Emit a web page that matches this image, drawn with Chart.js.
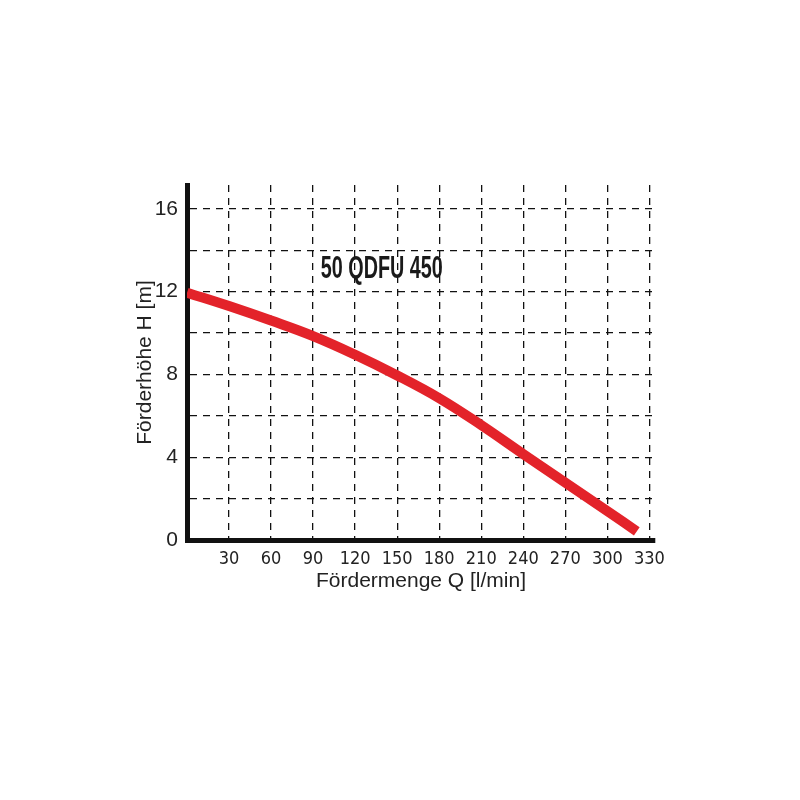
<!DOCTYPE html>
<html>
<head>
<meta charset="utf-8">
<script src="https://cdn.jsdelivr.net/npm/chart.js@4/dist/chart.umd.min.js"></script>
<style>
  html, body { margin: 0; padding: 0; background: #fff; }
  #wrap { width: 800px; height: 800px; }
</style>
</head>
<body>
<div id="wrap"><canvas id="chart" width="800" height="800"></canvas></div>
<script>
// Pump curve 50 QDFU 450: flow Q [l/min] vs head H [m]
const flowQ = [0, 30, 60, 90, 120, 150, 180, 210, 240, 270, 300, 321];
const headH = [11.95, 11.3, 10.6, 9.85, 8.95, 7.95, 6.85, 5.55, 4.15, 2.77, 1.4, 0.42];
const modelName = "50 QDFU 450";
const yLabels = [0, 4, 8, 12, 16];
const xLabels = [30, 60, 90, 120, 150, 180, 210, 240, 270, 300, 330];

// Draws the model name inside the plot, squeezed to a condensed width
const modelLabel = {
    id: "modelLabel",
    afterDatasetsDraw(chart) {
        const {ctx, scales} = chart;
        const cx = scales.x.getPixelForValue(139);
        const cy = scales.y.getPixelForValue(13.1);
        ctx.save();
        ctx.font = "bold 32px 'Liberation Sans', Arial, sans-serif";
        ctx.fillStyle = "#1a1a1a";
        ctx.textAlign = "center";
        ctx.textBaseline = "middle";
        const w = ctx.measureText(modelName).width;
        ctx.translate(cx, cy);
        ctx.scale(122 / w, 1);
        ctx.fillText(modelName, 0, 0);
        ctx.restore();
    }
};

const points = flowQ.map((q, i) => ({x: q, y: headH[i]}));

new Chart(document.getElementById("chart").getContext("2d"), {
    type: "line",
    data: {
        datasets: [{
            data: points,
            borderColor: "#e3232a",
            borderWidth: 10,
            borderCapStyle: "butt",
            pointRadius: 0,
            tension: 0.4,
            fill: false
        }]
    },
    options: {
        responsive: false,
        animation: false,
        events: [],
        layout: {padding: {left: 120, top: 185, right: 145, bottom: 190}},
        plugins: {
            legend: {display: false},
            tooltip: {enabled: false},
            title: {display: false}
        },
        scales: {
            x: {
                type: "linear",
                min: 0,
                max: 334,
                afterFit: (s) => { s.height = 70; },
                ticks: {
                    stepSize: 30,
                    includeBounds: false,
                    autoSkip: false,
                    maxRotation: 0,
                    padding: 9,
                    color: "#222",
                    font: {family: "'Liberation Sans Narrow', 'DejaVu Sans Condensed', 'Roboto Condensed', 'Liberation Sans', sans-serif", size: 18},
                    callback: (v) => xLabels.includes(v) ? String(v) : ""
                },
                grid: {color: "#111", lineWidth: 1.3, drawTicks: false},
                border: {color: "#111", width: 5, dash: [7, 6]},
                title: {
                    display: true,
                    text: "Fördermenge Q [l/min]",
                    color: "#222",
                    font: {family: "'Liberation Sans', Arial, sans-serif", size: 21},
                    padding: {top: 0, bottom: 16}
                }
            },
            y: {
                type: "linear",
                min: 0,
                max: 17.15,
                afterFit: (s) => { s.width = 67; },
                ticks: {
                    stepSize: 2,
                    includeBounds: false,
                    autoSkip: false,
                    padding: 9,
                    color: "#222",
                    font: {family: "'Liberation Sans', Arial, sans-serif", size: 21},
                    callback: (v) => yLabels.includes(v) ? String(v) : ""
                },
                grid: {color: "#111", lineWidth: 1.3, drawTicks: false},
                border: {color: "#111", width: 5, dash: [7, 6]},
                title: {
                    display: true,
                    text: "Förderhöhe H [m]",
                    color: "#222",
                    font: {family: "'Liberation Sans', Arial, sans-serif", size: 21},
                    padding: {top: 13, bottom: 0}
                }
            }
        }
    },
    plugins: [modelLabel]
});
</script>
</body>
</html>
